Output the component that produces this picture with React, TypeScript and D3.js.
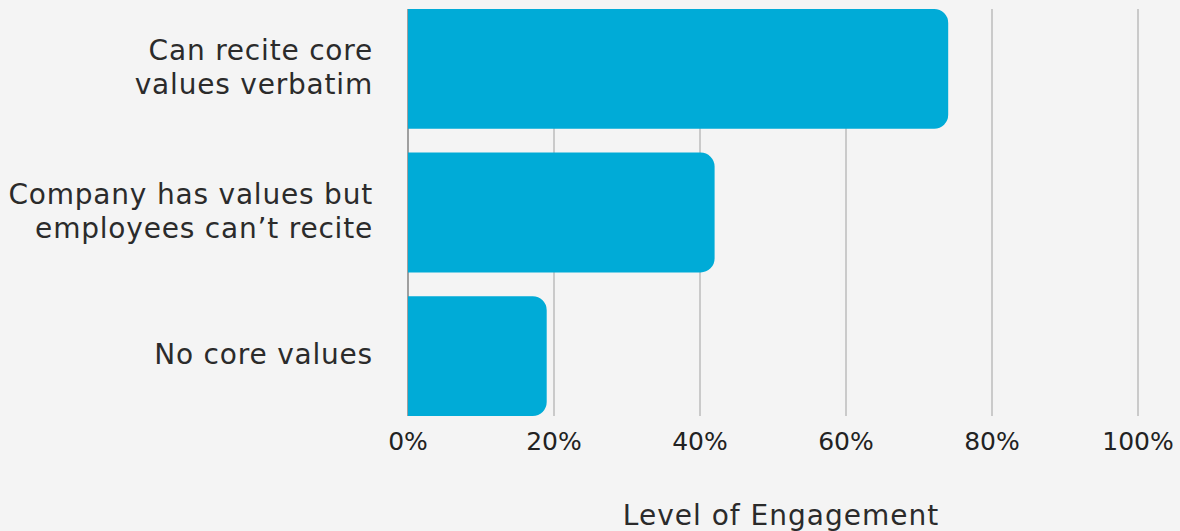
import React from "react";
import * as d3 from "d3";

const categories: string[][] = [
  ["Can recite core", "values verbatim"],
  ["Company has values but", "employees can\u2019t recite"],
  ["No core values"],
];
const values: number[] = [0.74, 0.42, 0.19];
const ticks: number[] = [0, 0.2, 0.4, 0.6, 0.8, 1.0];
const axisTitle = "Level of Engagement";

const W = 1180;
const H = 531;
const FONT = "'DejaVu Sans', sans-serif";

function barPath(x0: number, x1: number, y0: number, h: number, r: number) {
  const rr = Math.min(r, (x1 - x0) / 2, h / 2);
  const p = d3.path();
  p.moveTo(x0, y0);
  p.lineTo(x1 - rr, y0);
  p.arcTo(x1, y0, x1, y0 + rr, rr);
  p.lineTo(x1, y0 + h - rr);
  p.arcTo(x1, y0 + h, x1 - rr, y0 + h, rr);
  p.lineTo(x0, y0 + h);
  p.closePath();
  return p.toString();
}

export default function App() {
  const x = d3.scaleLinear().domain([0, 1]).range([408, 1138]);
  const idx = categories.map((_, i) => String(i));
  const y = d3.scaleBand().domain(idx).range([9, 416]).paddingInner(0.165).paddingOuter(0);
  const fmt = d3.format(".0%");
  const lineH = 34;

  return (
    <svg
      width={W}
      height={H}
      style={{ position: "absolute", left: 0, top: 0, background: "#f4f4f4" }}
    >
      <rect x={0} y={0} width={W} height={H} fill="#f4f4f4" />
      {ticks.map((t) => (
        <line
          key={"g" + t}
          x1={x(t)}
          x2={x(t)}
          y1={y.range()[0]}
          y2={y.range()[1]}
          stroke={t === 0 ? "#666" : "#bdbdbd"}
          strokeWidth={t === 0 ? 1.2 : 1.5}
        />
      ))}
      {values.map((v, i) => (
        <path
          key={"b" + i}
          d={barPath(x(0), x(v), y(String(i))!, y.bandwidth(), 14)}
          fill="#00abd7"
        />
      ))}
      {categories.map((lines, i) => {
        const cy = y(String(i))! + y.bandwidth() / 2;
        const start = cy + 8 - ((lines.length - 1) * lineH) / 2;
        return (
          <text
            key={"c" + i}
            textAnchor="end"
            fontFamily={FONT}
            fontSize={28}
            letterSpacing={0.8}
            fill="#2b2b2b"
          >
            {lines.map((l, j) => (
              <tspan key={j} x={373} y={start + j * lineH}>
                {l}
              </tspan>
            ))}
          </text>
        );
      })}
      {ticks.map((t) => (
        <text
          key={"t" + t}
          x={x(t)}
          y={450}
          textAnchor="middle"
          fontFamily={FONT}
          fontSize={25}
          fill="#222"
        >
          {fmt(t)}
        </text>
      ))}
      <text
        x={781}
        y={525}
        textAnchor="middle"
        fontFamily={FONT}
        fontSize={28}
        letterSpacing={1}
        fill="#2b2b2b"
      >
        {axisTitle}
      </text>
    </svg>
  );
}
